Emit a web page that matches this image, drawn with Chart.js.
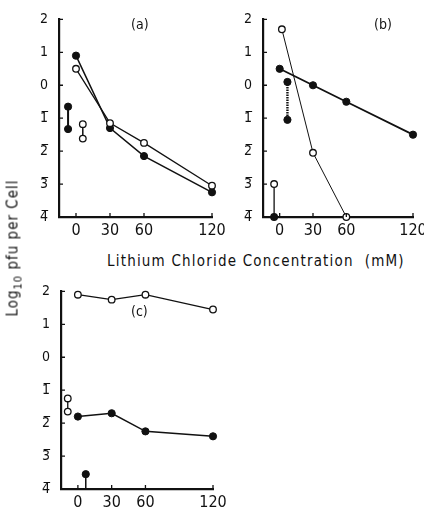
<!DOCTYPE html>
<html>
<head>
<meta charset="utf-8">
<script src="https://cdn.jsdelivr.net/npm/chart.js@4.4.0/dist/chart.umd.min.js"></script>
<style>
body { margin: 0; background: #fff; width: 424px; height: 521px; position: relative; overflow: hidden; font-family: 'DejaVu Sans Condensed', 'DejaVu Sans', sans-serif; color: #111; }
canvas { position: absolute; }
.txt { position: absolute; white-space: nowrap; }
</style>
</head>
<body>
<canvas id="chartA" width="210" height="245" style="left:20px;top:0px"></canvas>
<canvas id="chartB" width="208" height="245" style="left:224px;top:0px"></canvas>
<canvas id="chartC" width="210" height="245" style="left:22px;top:272px"></canvas>

<div class="txt" style="left:131px;top:16px;font-size:14px">(a)</div>
<div class="txt" style="left:374px;top:16px;font-size:14px">(b)</div>
<div class="txt" style="left:131px;top:303px;font-size:14px">(c)</div>
<div class="txt" id="xTitle" style="left:107px;top:252px;font-size:15px;letter-spacing:1.2px">Lithium Chloride Concentration&nbsp;&nbsp;(mM)</div>
<div class="txt" id="yTitle" style="left:14px;top:248px;font-size:15px;letter-spacing:1px;transform:translate(-50%,-50%) rotate(-90deg)">Log<sub style="font-size:11px">10</sub> pfu per Cell</div>

<script>
// LiCl concentration (mM) and log10 pfu per cell
const conc = [0, 30, 60, 120];
const xTicks = [0, 30, 60, 120];
const yTicks = [2, 1, 0, -1, -2, -3, -4];

// panel (a)
const aOpen = [0.5, -1.15, -1.75, -3.05];
const aFilled = [0.9, -1.3, -2.15, -3.25];
const aCtrlFilledX = [-7, -7];
const aCtrlFilled = [-0.65, -1.33];
const aCtrlOpenX = [6, 6];
const aCtrlOpen = [-1.18, -1.62];

// panel (b)
const bOpenX = [2, 30, 60];
const bOpen = [1.7, -2.05, -4];
const bFilled = [0.5, 0, -0.5, -1.5];
const bCtrlFilledX = [7, 7];
const bCtrlFilled = [0.1, -1.05];
const bCtrlOpenX = [-5, -5];
const bCtrl = [-3, -4];

// panel (c)
const cOpen = [1.9, 1.75, 1.9, 1.45];
const cFilled = [-1.8, -1.7, -2.25, -2.4];
const cCtrlOpenX = [-9, -9];
const cCtrlOpen = [-1.25, -1.65];
const cCtrlFilledX = [7, 7];
const cCtrlFilled = [-3.55, -4];

function pts(xs, ys) {
    return xs.map((x, i) => ({ x: x, y: ys[i] }));
}

function openSet(data, width) {
    return {
        data: data,
        borderColor: '#111',
        borderWidth: width,
        pointRadius: 3.3,
        pointBackgroundColor: '#fff',
        pointBorderColor: '#111',
        pointBorderWidth: 1.3,
        clip: false
    };
}

function filledSet(data, width) {
    return {
        data: data,
        borderColor: '#111',
        borderWidth: width,
        pointRadius: 3.6,
        pointBackgroundColor: '#111',
        pointBorderColor: '#111',
        pointBorderWidth: 1,
        clip: false
    };
}

// small tick marks pointing into the plot, like the printed figure
const inwardTicks = {
    id: 'inwardTicks',
    afterDraw(chart) {
        const ctx = chart.ctx;
        const x = chart.scales.x;
        const y = chart.scales.y;
        ctx.save();
        ctx.strokeStyle = '#111';
        ctx.lineWidth = 1.3;
        ctx.beginPath();
        xTicks.forEach(v => {
            const px = x.getPixelForValue(v);
            ctx.moveTo(px, y.bottom);
            ctx.lineTo(px, y.bottom - 4);
        });
        yTicks.forEach(v => {
            const py = y.getPixelForValue(v);
            ctx.moveTo(x.left, py);
            ctx.lineTo(x.left + 4, py);
        });
        ctx.stroke();
        ctx.restore();
    }
};

function makeOptions(pad, yWidth, xHeight) {
    return {
        responsive: false,
        animation: false,
        layout: { padding: pad },
        plugins: { legend: { display: false }, tooltip: { enabled: false } },
        scales: {
            x: {
                type: 'linear',
                min: -15,
                max: 120,
                grid: { display: false, drawTicks: false },
                border: { display: true, width: 2.2, color: '#111' },
                afterBuildTicks: scale => { scale.ticks = xTicks.map(v => ({ value: v })); },
                afterFit: scale => { scale.height = xHeight; },
                ticks: {
                    color: '#111',
                    padding: 4,
                    maxRotation: 0,
                    font: { family: "'DejaVu Sans Condensed', 'DejaVu Sans'", size: 16 }
                }
            },
            y: {
                type: 'linear',
                min: -4,
                max: 2,
                grid: { display: false, drawTicks: false },
                border: { display: true, width: 2.2, color: '#111' },
                afterBuildTicks: scale => { scale.ticks = yTicks.map(v => ({ value: v })); },
                afterFit: scale => { scale.width = yWidth; },
                ticks: {
                    color: '#111',
                    padding: 11,
                    font: { family: "'DejaVu Sans Condensed', 'DejaVu Sans'", size: 14 },
                    callback: v => v < 0 ? (-v) + '\u0305' : String(v)
                }
            }
        }
    };
}

new Chart(document.getElementById('chartA'), {
    type: 'line',
    data: {
        datasets: [
            openSet(pts(conc, aOpen), 1.3),
            filledSet(pts(conc, aFilled), 1.5),
            filledSet(pts(aCtrlFilledX, aCtrlFilled), 2),
            openSet(pts(aCtrlOpenX, aCtrlOpen), 1.5)
        ]
    },
    options: makeOptions({ top: 13, right: 18, left: 0, bottom: 0 }, 39, 28),
    plugins: [inwardTicks]
});

const bCtrlSet = openSet(pts(bCtrlOpenX, bCtrl), 1.3);
bCtrlSet.pointBackgroundColor = ['#fff', '#111'];
const bDotted = filledSet(pts(bCtrlFilledX, bCtrlFilled), 2.4);
bDotted.borderDash = [1.5, 1];

new Chart(document.getElementById('chartB'), {
    type: 'line',
    data: {
        datasets: [
            openSet(pts(bOpenX, bOpen), 1),
            filledSet(pts(conc, bFilled), 1.8),
            bDotted,
            bCtrlSet
        ]
    },
    options: makeOptions({ top: 13, right: 19, left: 0, bottom: 0 }, 39, 28),
    plugins: [inwardTicks]
});

const cStem = filledSet(pts(cCtrlFilledX, cCtrlFilled), 1.5);
cStem.pointRadius = [3.6, 0];

new Chart(document.getElementById('chartC'), {
    type: 'line',
    data: {
        datasets: [
            openSet(pts(conc, cOpen), 1.3),
            filledSet(pts(conc, cFilled), 1.5),
            openSet(pts(cCtrlOpenX, cCtrlOpen), 1.3),
            cStem
        ]
    },
    options: makeOptions({ top: 13, right: 19, left: 0, bottom: 0 }, 39, 28),
    plugins: [inwardTicks]
});
</script>
</body>
</html>
